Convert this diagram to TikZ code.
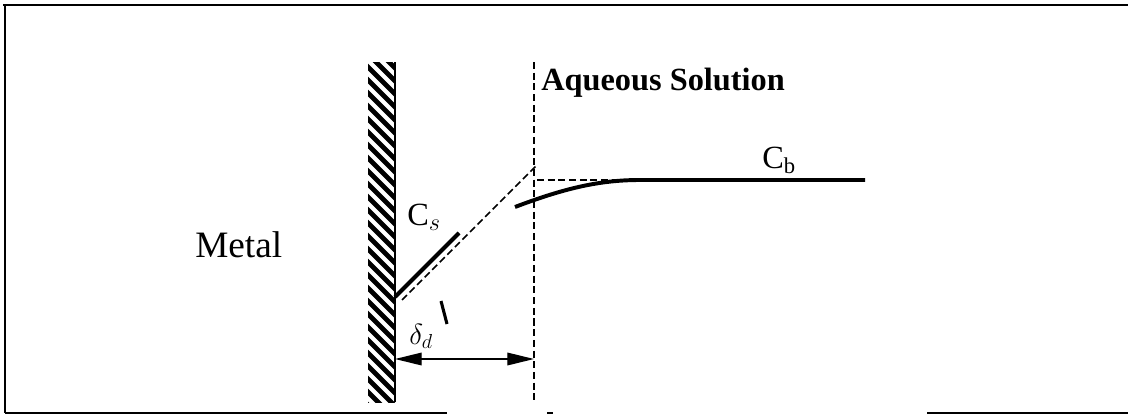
\documentclass[tikz,border=0pt]{standalone}
\usepackage{fontspec}
\setmainfont{Liberation Serif}
\usepackage{amsmath}
\usetikzlibrary{arrows.meta, positioning, calc}

\begin{document}
\begin{tikzpicture}[
  x=0.025cm, y=-0.025cm,
  frame/.style={line width=1.6pt},
  wall/.style={line width=1.5pt},
  hatchline/.style={line width=3.4pt},
  guide/.style={line width=1.2pt, dash pattern=on 5pt off 2.6pt},
  conc/.style={line width=2.8pt},
  dimarr/.style={{Triangle[length=19pt, width=9pt]}-{Triangle[length=19pt, width=9pt]}, line width=1.0pt},
  lbl/.style={inner sep=0pt, anchor=base west, font=\fontsize{23}{26}\selectfont},
]
\useasboundingbox (0,0) rectangle (1128,415);
%% Frame
\draw[frame] (3,5) -- (1128,5);
\draw[frame] (5,5) -- (5,413);
\draw[frame] (5,413) -- (447,413);
\draw[frame] (547,413) -- (553,413);
\draw[frame] (927,413) -- (1128,413);
%% Metal wall
\begin{scope}
  \clip (368,62) rectangle (395,402);
  \foreach \y in {20,33,...,410} \draw[hatchline] (360,\y) -- ++(45,45);
\end{scope}
\coordinate (walltop) at (395,62);
\coordinate (wallfoot) at (395,402);
\draw[wall] (walltop) -- (wallfoot);
%% Boundary of the diffusion layer
\coordinate (layertop) at (534,62);
\coordinate (layerfoot) at (534,402);
\draw[guide] (layertop) -- (layerfoot);
%% Concentration profile
\coordinate (cs0) at (395,297);
\coordinate (cs1) at (459,233);
\coordinate (ext0) at (402,300);
\coordinate (ext1) at (537,165);
\coordinate (bulk0) at (537,180);
\coordinate (bulk1) at (640,180);
\coordinate (cb0) at (515,207);
\coordinate (cb1) at (865,180);
\draw[conc] (cs0) -- (cs1);
\draw[guide] (ext0) -- (ext1);
\draw[guide] (bulk0) -- (bulk1);
\draw[conc] (cb0) .. controls (565,188) and (600,180) .. (bulk1) -- (cb1);
%% Thickness of the layer
\coordinate (dimL) at (395,359);
\coordinate (dimR) at (534,359);
\draw[dimarr] (dimL) -- (dimR);
\coordinate (tick0) at (441,301);
\coordinate (tick1) at (447,324);
\draw[line width=2.2pt] (tick0) -- (tick1);
%% Labels
\node[lbl, font=\fontsize{26.5}{30}\selectfont] (metal) at (195,257) {Metal};
\node[lbl, font=\fontsize{23}{26}\selectfont\bfseries] (aqsol) at (541,90) {Aqueous Solution};
\node[lbl] (cslbl) at (407,225) {C$_{s}$};
\node[lbl] (cblbl) at (762,168) {C$_{\mathrm{b}}$};
\node[lbl, font=\fontsize{22}{25}\selectfont] (dlbl) at (409,344) {$\delta_{d}$};
\end{tikzpicture}
\end{document}
